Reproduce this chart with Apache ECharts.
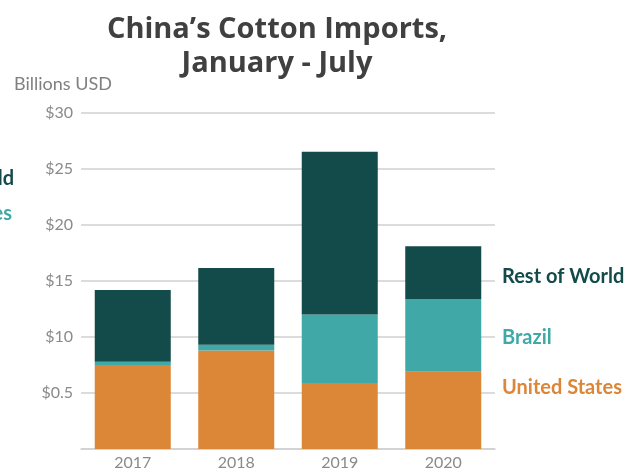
<!DOCTYPE html>
<html>
<head>
<meta charset="utf-8">
<script src="https://cdn.jsdelivr.net/npm/echarts@6/dist/echarts.min.js"></script>
<style>
  html, body { margin: 0; padding: 0; background: #ffffff; }
  #chart { width: 636px; height: 473px; }
</style>
</head>
<body>
<div id="chart"></div>
<script>
// China's cotton imports, January - July, billions USD
const years = ['2017', '2018', '2019', '2020'];
const unitedStates = [7.5, 8.8, 5.9, 6.9];
const brazil = [0.3, 0.5, 6.1, 6.5];
const restOfWorld = [6.4, 6.85, 14.55, 4.7];
const yTickLabels = ['', '$0.5', '$10', '$15', '$20', '$25', '$30'];

const FONT = 'Lato, "Open Sans", sans-serif';
const TITLE_FONT = '"Open Sans", Lato, sans-serif';
const colors = { us: '#dc8638', brazil: '#40a9a7', row: '#134a4a' };

const chart = echarts.init(document.getElementById('chart'), null, { renderer: 'canvas' });

function seriesOf(name, data, color) {
  return {
    name: name,
    type: 'bar',
    stack: 'total',
    barWidth: 76,
    data: data,
    itemStyle: { color: color },
    emphasis: { disabled: true }
  };
}

chart.setOption({
  animation: false,
  backgroundColor: '#ffffff',
  grid: { left: 81, top: 113, width: 414, height: 336, containLabel: false },
  xAxis: {
    type: 'category',
    data: years,
    axisLine: { show: true, lineStyle: { color: '#d0d0d0', width: 1.5 } },
    axisTick: { show: false },
    axisLabel: { color: '#8a8a8a', fontFamily: FONT, fontSize: 16, margin: 6 }
  },
  yAxis: {
    type: 'value',
    min: 0,
    max: 30,
    interval: 5,
    axisLine: { show: false },
    axisTick: { show: false },
    splitLine: { lineStyle: { color: '#d0d0d0', width: 1.5 } },
    axisLabel: {
      color: '#8a8a8a', fontFamily: FONT, fontSize: 16, margin: 8,
      formatter: function (v) { return yTickLabels[Math.round(v / 5)]; }
    }
  },
  series: [
    seriesOf('United States', unitedStates, colors.us),
    seriesOf('Brazil', brazil, colors.brazil),
    seriesOf('Rest of World', restOfWorld, colors.row)
  ],
  graphic: [
    {
      type: 'text', x: 277, y: 47,
      style: {
        text: 'China\u2019s Cotton Imports,\nJanuary - July',
        fill: '#404040', font: 'bold 29px ' + TITLE_FONT,
        align: 'center', verticalAlign: 'middle', lineHeight: 34
      }
    },
    {
      type: 'text', x: 14, y: 84,
      style: { text: 'Billions USD', fill: '#808080', font: '18px ' + FONT, verticalAlign: 'middle' }
    },
    {
      type: 'text', x: 502, y: 277,
      style: { text: 'Rest of World', fill: colors.row, font: 'bold 20px ' + FONT, verticalAlign: 'middle' }
    },
    {
      type: 'text', x: 502, y: 338,
      style: { text: 'Brazil', fill: colors.brazil, font: 'bold 20px ' + FONT, verticalAlign: 'middle' }
    },
    {
      type: 'text', x: 502, y: 388,
      style: { text: 'United States', fill: colors.us, font: 'bold 20px ' + FONT, verticalAlign: 'middle' }
    },
    {
      type: 'text', x: 14, y: 179,
      style: { text: 'Rest of World', fill: colors.row, font: 'bold 20px ' + FONT, align: 'right', verticalAlign: 'middle' }
    },
    {
      type: 'text', x: 12, y: 214,
      style: { text: 'United States', fill: colors.brazil, font: 'bold 20px ' + FONT, align: 'right', verticalAlign: 'middle' }
    }
  ]
});
</script>
</body>
</html>
